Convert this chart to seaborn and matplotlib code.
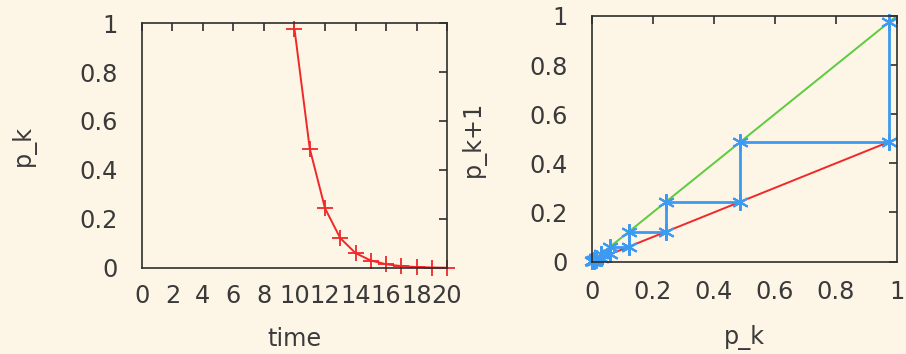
import matplotlib
matplotlib.use("Agg")
import matplotlib.pyplot as plt
import seaborn as sns
import numpy as np
import pandas as pd

# ---- data ----
time = [10, 11, 12, 13, 14, 15, 16, 17, 18, 19, 20]
p_k = [0.975, 0.4875, 0.2438, 0.1219, 0.0609, 0.0305, 0.0152, 0.0076, 0.0038, 0.0019, 0.0010]

line_x = [0.0, 1.0]
identity_y = [0.0, 1.0]      # p_{k+1} = p_k
map_y = [0.0, 0.5]           # p_{k+1} = p_k / 2

x_ticks_left = [0, 2, 4, 6, 8, 10, 12, 14, 16, 18, 20]
y_ticks = [0, 0.2, 0.4, 0.6, 0.8, 1]
y_tick_labels = ["0", "0.2", "0.4", "0.6", "0.8", "1"]

# cobweb path built from the iterates
cob_x, cob_y = [], []
for a, b in zip(p_k[:-1], p_k[1:]):
    cob_x += [a, a]
    cob_y += [a, b]

sns.set_theme(style="white")
plt.rcParams['font.family'] = ['DejaVu Sans']

BG = "#fdf5e6"
TXT = "#3a3a3a"
SPINE = "#2e2e2e"
RED = "#f02828"
GREEN = "#5ccc3c"
BLUE = "#3d9af2"
FS = 17.3

fig = plt.figure(figsize=(9.06, 3.54), dpi=100, facecolor=BG)
ax1 = fig.add_axes([0.1567, 0.243, 0.3367, 0.692])
ax2 = fig.add_axes([0.6531, 0.261, 0.3367, 0.694])

for ax in (ax1, ax2):
    ax.set_facecolor(BG)
    for s in ax.spines.values():
        s.set_color(SPINE)
        s.set_linewidth(1.2)
        s.set_zorder(5)
    ax.tick_params(direction="in", length=5.5, width=1.2, color=SPINE,
                   top=True, right=True, labelsize=FS, labelcolor=TXT)
    ax.tick_params(axis="y", pad=17.5)
ax1.tick_params(axis="x", pad=11.5)
ax2.tick_params(axis="x", pad=13)

# left panel
df1 = pd.DataFrame({"time": time, "p_k": p_k})
sns.lineplot(data=df1, x="time", y="p_k", ax=ax1, color=RED, lw=1.4,
             marker="+", markersize=11, markeredgewidth=1.3,
             markeredgecolor=RED, clip_on=False)
ax1.set_xlim(0, 20)
ax1.set_ylim(0, 1)
ax1.set_xticks(x_ticks_left)
ax1.set_xticklabels([str(v) for v in x_ticks_left])
ax1.set_yticks(y_ticks)
ax1.set_yticklabels(y_tick_labels)
ax1.set_xlabel("time", fontsize=FS, color=TXT, labelpad=14)
ax1.set_ylabel("p_k", fontsize=FS, color=TXT, labelpad=31)

# right panel
df_id = pd.DataFrame({"x": line_x, "y": identity_y})
df_map = pd.DataFrame({"x": line_x, "y": map_y})
df_cob = pd.DataFrame({"x": cob_x, "y": cob_y})
sns.lineplot(data=df_id, x="x", y="y", ax=ax2, color=GREEN, lw=1.4)
sns.lineplot(data=df_map, x="x", y="y", ax=ax2, color=RED, lw=1.4)
sns.lineplot(data=df_cob, x="x", y="y", ax=ax2, color=BLUE, lw=2.0,
             sort=False, estimator=None, marker=(6, 2, 0), markersize=12,
             markeredgewidth=1.5, markeredgecolor=BLUE, clip_on=False)
ax2.set_xlim(0, 1)
ax2.set_ylim(0, 1)
ax2.set_xticks(y_ticks)
ax2.set_xticklabels(y_tick_labels)
ax2.set_yticks(y_ticks)
ax2.set_yticklabels(y_tick_labels)
ax2.set_xlabel("p_k", fontsize=FS, color=TXT, labelpad=15.5)
ax2.set_ylabel("p_k+1", fontsize=FS, color=TXT, labelpad=31)

fig.savefig("out.png", dpi=100, facecolor=BG)
